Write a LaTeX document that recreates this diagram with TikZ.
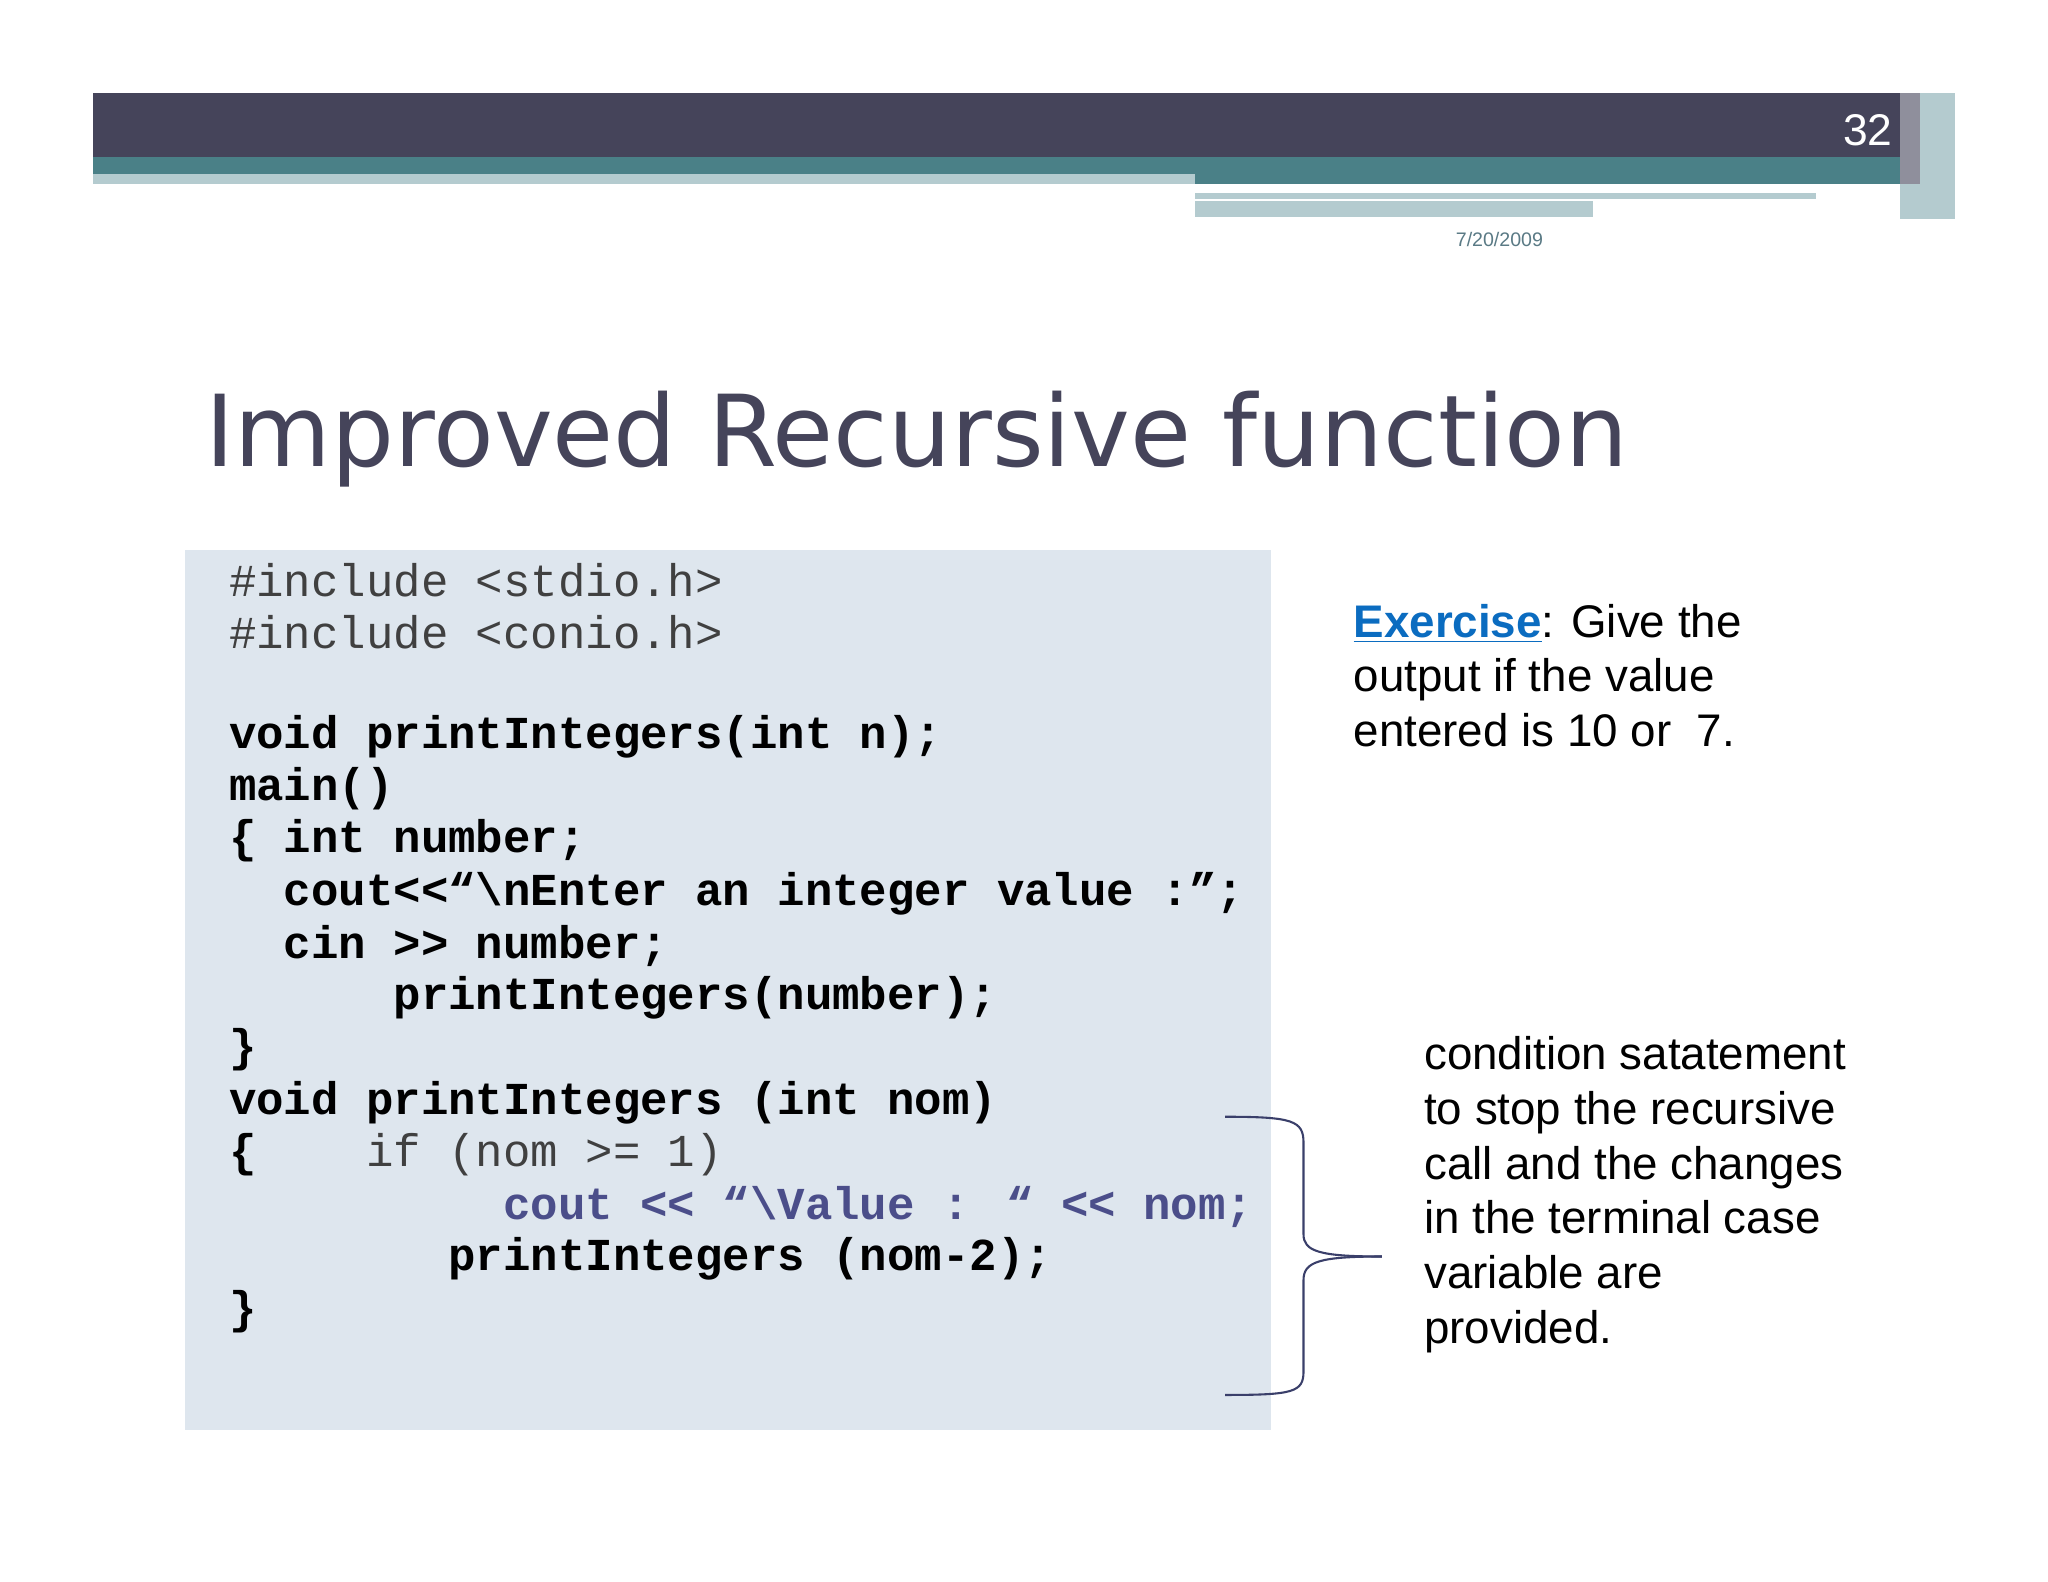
\documentclass[tikz,border=0pt]{standalone}
\usepackage{fontspec}
\setmainfont{Liberation Sans}
\newfontfamily\codefont{Liberation Mono}
\newfontfamily\titlefont{DejaVu Sans}
\definecolor{hdr}{HTML}{45445A}
\definecolor{teal}{HTML}{4A8087}
\definecolor{lgrid}{HTML}{B4CBCF}
\definecolor{codebg}{HTML}{DEE6EE}
\definecolor{codeblue}{HTML}{4B4E8A}
\definecolor{exblue}{HTML}{0B6CC0}
\definecolor{datec}{HTML}{5A7A85}
\definecolor{bracec}{HTML}{3A3F6A}
\begin{document}
\begin{tikzpicture}[x=0.5pt,y=-0.5pt,
  code/.style={anchor=west,inner sep=0pt,font=\codefont\fontsize{17.5}{20}\selectfont\bfseries,text=black},
  coderg/.style={code,font=\codefont\fontsize{17.5}{20}\selectfont,text=black!75},
  side/.style={anchor=west,inner sep=0pt,font=\fontsize{17.5}{21}\selectfont,text=black}]
\useasboundingbox (0,0) rectangle (1568,1211);
\fill[white] (0,0) rectangle (1568,1211);
% header
\fill[hdr] (71,71) rectangle (1455,120);
\fill[teal] (71,120) rectangle (915,133);
\fill[teal] (915,120) rectangle (1455,141);
\fill[lgrid] (71,133) rectangle (915,141);
\fill[lgrid] (915,148) rectangle (1390,152);
\fill[lgrid] (915,154) rectangle (1220,166);
\fill[lgrid] (1455,71) rectangle (1497,168);
\fill[hdr!60] (1455,71) rectangle (1470,141);
\node[text=white,font=\fontsize{17}{20}\selectfont] (num) at (1430,100) {32};
\node[text=datec,font=\fontsize{7.5}{9}\selectfont] (date) at (1148,183) {7/20/2009};
% title
\node[anchor=west,inner sep=0pt,text=hdr,font=\titlefont\fontsize{38}{44}\selectfont] (title) at (157,336) {Improved Recursive function};
% code box
\fill[codebg] (142,421) rectangle (973,1095);
\node[coderg] (l1) at (175,444) {\#include <stdio.h>};
\node[coderg] (l2) at (175,484) {\#include <conio.h>};
\node[code] (l3) at (175,564) {void printIntegers(int n);};
\node[code] (l4) at (175,604) {main()};
\node[code] (l5) at (175,644) {\{ int number;};
\node[code] (l6) at (175,684) {\ \ cout<<“\textbackslash nEnter an integer value :”;};
\node[code] (l7) at (175,724) {\ \ cin >> number;};
\node[code] (l8) at (175,764) {\ \ \ \ \ \ printIntegers(number);};
\node[code] (l9) at (175,804) {\}};
\node[code] (l10) at (175,844) {void printIntegers (int nom)};
\node[code] (l11) at (175,884) {\{};
\node[coderg] (l11b) at (280,884) {if (nom >= 1)};
\node[code,text=codeblue] (l12) at (175,924) {\ \ \ \ \ \ \ \ \ \ cout << “\textbackslash Value : “ << nom;};
\node[code] (l13) at (175,964) {\ \ \ \ \ \ \ \ printIntegers (nom-2);};
\node[code] (l14) at (175,1004) {\}};
% exercise text
\node[side,anchor=north west,align=left] (ex) at (1036,462) {\textcolor{exblue}{\textbf{\underline{Exercise}}}: Give the\\output if the value\\entered is 10 or \ 7.};
% brace
\coordinate (bt) at (938,855);
\coordinate (bb) at (938,1068);
\coordinate (tip) at (1058,962);
\draw[bracec,thick] (bt) .. controls (990,855) and (998,858) .. (998,875) -- (998,945)
  .. controls (998,958) and (1010,962) .. (tip);
\draw[bracec,thick] (tip) .. controls (1010,962) and (998,966) .. (998,980) -- (998,1050)
  .. controls (998,1066) and (990,1068) .. (bb);
\node[side,anchor=north west,align=left] (cond) at (1090,793) {condition satatement\\to stop the recursive\\call and the changes\\in the terminal case\\variable are\\provided.};
\end{tikzpicture}
\end{document}
